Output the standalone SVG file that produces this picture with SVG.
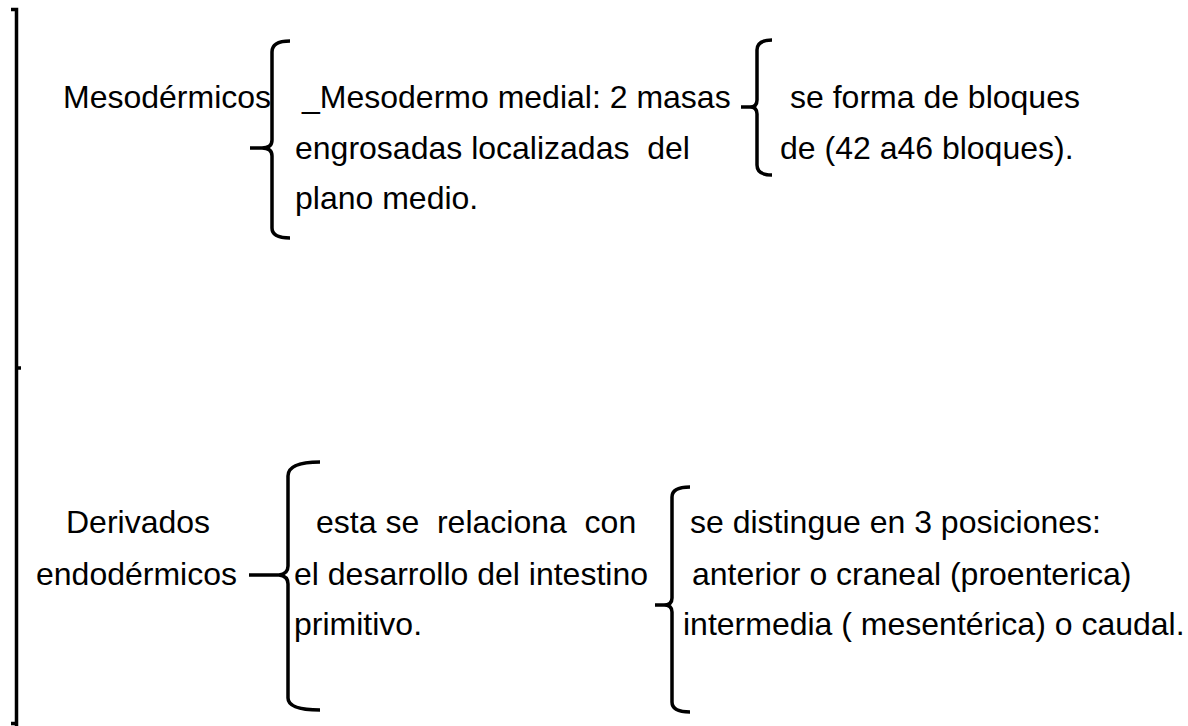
<svg xmlns="http://www.w3.org/2000/svg" width="1188" height="726" viewBox="0 0 1188 726">
<style>
text{font-family:"Liberation Sans",Arial,sans-serif;font-size:32px;fill:#000}
.br{fill:none;stroke:#000;stroke-width:3.5;stroke-linecap:butt;stroke-linejoin:miter}
</style>
<rect width="1188" height="726" fill="#fff"/>
<g id="connectors">
<path id="outer" class="br" d="M11,9.5 L16.5,9.5 L16.5,726 M11,723.5 L16.5,723.5 M16.5,368 L21,368" stroke-width="3"/>
<path id="brace1" class="br" d="M290,41 Q272,41 272,52 L272,140 Q272,148 262,148 L250,148 M262,148 Q272,148 272,156 L272,228 Q272,238 290,238"/>
<path id="brace2" class="br" d="M772,40 Q757,40 757,50 L757,100 Q757,107 750,107 L741,107 M750,107 Q757,107 757,114 L757,165 Q757,175 772,175"/>
<path id="brace3" class="br" d="M320,462 Q288,462 288,476 L288,566 Q288,574 279,575 L249,575 M279,575 Q288,576 288,584 L288,698 Q288,710 320,710"/>
<path id="brace4" class="br" d="M690,487 Q672,487 672,497 L672,598 Q672,605 664,605 L655,605 M664,605 Q672,605 672,612 L672,702 Q672,712 690,712"/>
</g>
<g id="mesodermicos"><text x="63" y="108">Mesodérmicos</text></g>
<g id="mesodermo-medial">
<text x="302" y="108">_Mesodermo medial: 2 masas</text>
<text x="295" y="159" xml:space="preserve">engrosadas localizadas  del</text>
<text x="295" y="209">plano medio.</text>
</g>
<g id="bloques">
<text x="790" y="108">se forma de bloques</text>
<text x="780" y="159">de (42 a46 bloques).</text>
</g>
<g id="derivados">
<text x="66" y="533">Derivados</text>
<text x="36" y="585">endodérmicos</text>
</g>
<g id="intestino">
<text x="316" y="533" xml:space="preserve">esta se  relaciona  con</text>
<text x="294" y="585">el desarrollo del intestino</text>
<text x="294" y="635">primitivo.</text>
</g>
<g id="posiciones">
<text x="690" y="533">se distingue en 3 posiciones:</text>
<text x="692" y="585">anterior o craneal (proenterica)</text>
<text x="683" y="635">intermedia ( mesentérica) o caudal.</text>
</g>
</svg>
